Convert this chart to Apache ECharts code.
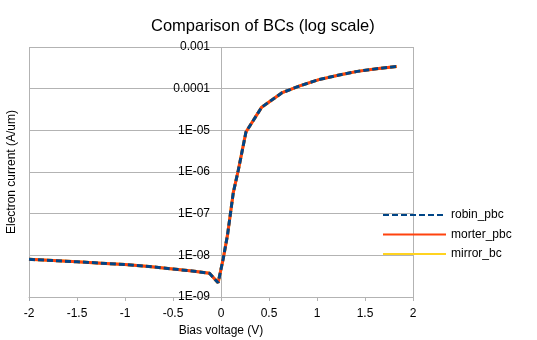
<!DOCTYPE html>
<html>
<head>
<meta charset="utf-8">
<script src="https://cdn.jsdelivr.net/npm/echarts@6/dist/echarts.min.js"></script>
<style>html,body{margin:0;padding:0;background:#fff}#c{width:537px;height:340px}</style>
</head>
<body>
<div id="c"></div>
<script>
const biasVoltage = [-2, -1.75, -1.5, -1.25, -1, -0.75, -0.5, -0.3, -0.12, -0.03, 0.024, 0.068, 0.128, 0.18, 0.26, 0.424, 0.632, 0.82, 1.02, 1.22, 1.42, 1.62, 1.83];
const robinPbc = [8.0e-9, 7.5e-9, 7.0e-9, 6.5e-9, 6.0e-9, 5.4e-9, 4.7e-9, 4.2e-9, 3.7e-9, 2.2e-9, 8.5e-9, 3.1e-8, 3.2e-7, 1.1e-6, 9.1e-6, 3.6e-5, 7.9e-5, 1.17e-4, 1.65e-4, 2.1e-4, 2.6e-4, 3.0e-4, 3.4e-4];
const morterPbc = robinPbc.slice();
const mirrorBc = robinPbc.slice();
const seriesNames = ['robin_pbc', 'morter_pbc', 'mirror_bc'];
const xTicks = [-2, 2, 0.5];
const yRange = [1e-9, 1e-3];

const pair = (xs, ys) => xs.map((x, i) => [x, ys[i]]);
const fmtY = v => {
  const e = Math.round(Math.log10(v));
  if (e >= -4) return '0.' + '0'.repeat(-e - 1) + '1';
  const n = -e;
  return '1E-' + (n < 10 ? '0' + n : '' + n);
};
const gridColor = '#b3b3b3';
const font = 'Liberation Sans';

const chart = echarts.init(document.getElementById('c'));
chart.setOption({
  animation: false,
  textStyle: { fontFamily: font },
  title: {
    text: 'Comparison of BCs (log scale)',
    left: 151, top: 18, padding: 0,
    textStyle: { fontFamily: font, fontSize: 16.5, fontWeight: 'normal', color: '#000' }
  },
  grid: { left: 29, right: 124, top: 47, bottom: 43, containLabel: false, outerBoundsMode: 'none' },
  legend: {
    orient: 'vertical',
    left: 382, top: 209, padding: 0,
    itemWidth: 63, itemHeight: 12, itemGap: 7.5,
    itemStyle: { opacity: 0 },
    textStyle: { fontFamily: font, fontSize: 12, color: '#000' },
    data: seriesNames
  },
  xAxis: [{
    type: 'value', min: xTicks[0], max: xTicks[1], interval: xTicks[2],
    name: 'Bias voltage (V)', nameLocation: 'middle', nameGap: 25,
    nameTextStyle: { fontFamily: font, fontSize: 12, color: '#000' },
    axisLine: { onZero: false, lineStyle: { color: gridColor } },
    axisTick: { show: true, length: 4, lineStyle: { color: gridColor } },
    axisLabel: { margin: 11, fontSize: 12, color: '#000', fontFamily: font },
    splitLine: { show: false }
  }, {
    type: 'value', min: xTicks[0], max: xTicks[1], interval: 2,
    position: 'bottom',
    axisLine: { show: false, onZero: false }, axisTick: { show: false }, axisLabel: { show: false },
    splitLine: { show: true, lineStyle: { color: gridColor } }
  }],
  yAxis: {
    type: 'log', logBase: 10, min: yRange[0], max: yRange[1], splitNumber: 6,
    axisLine: { show: false, onZero: false },
    axisTick: { show: false },
    axisLabel: { formatter: fmtY, margin: -181, fontSize: 12, color: '#000', fontFamily: font, align: 'right' },
    splitLine: { show: true, lineStyle: { color: gridColor } }
  },
  graphic: [{
    type: 'text',
    x: 6, y: 172, rotation: Math.PI / 2,
    style: { text: 'Electron current (A/um)', fontFamily: font, fontSize: 12, fill: '#000', align: 'center', verticalAlign: 'top' }
  }],
  series: [
    { name: 'mirror_bc', type: 'line', data: pair(biasVoltage, mirrorBc), symbol: 'none', z: 2,
      itemStyle: { color: '#ffd320' }, lineStyle: { color: '#ffd320', width: 3 } },
    { name: 'morter_pbc', type: 'line', data: pair(biasVoltage, morterPbc), symbol: 'none', z: 3,
      itemStyle: { color: '#ff420e' }, lineStyle: { color: '#ff420e', width: 3 } },
    { name: 'robin_pbc', type: 'line', data: pair(biasVoltage, robinPbc), symbol: 'none', z: 4,
      itemStyle: { color: '#004586' }, lineStyle: { color: '#004586', width: 3, type: [6, 3] } }
  ]
});
</script>
</body>
</html>
